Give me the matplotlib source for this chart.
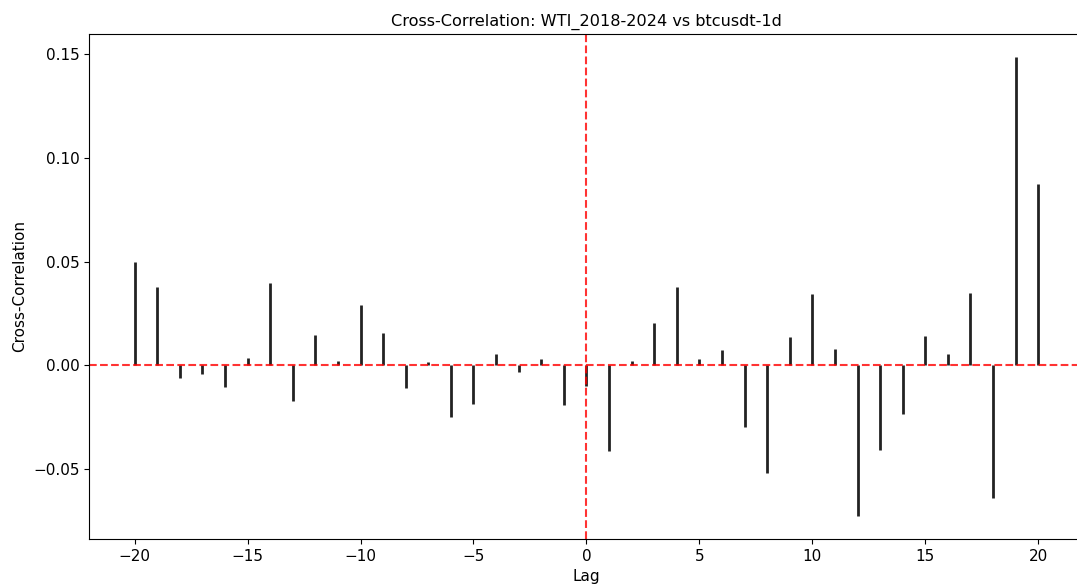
import numpy as np
import matplotlib.pyplot as plt

lags = np.arange(-20, 21)
ccf = np.array([
    0.050, 0.038, -0.006, -0.004, -0.0105, 0.0034, 0.040, -0.017, 0.0145, 0.0024,
    0.029, 0.0156, -0.011, 0.0015, -0.025, -0.0185, 0.0057, -0.0032, 0.0032, -0.019,
    -0.010,
    -0.041, 0.002, 0.0204, 0.0378, 0.0032, 0.0076, -0.0295, -0.052, 0.0137, 0.0343,
    0.008, -0.0725, -0.0407, -0.0233, 0.014, 0.0057, 0.035, -0.064, 0.1488, 0.0874,
])
title = "Cross-Correlation: WTI_2018-2024 vs btcusdt-1d"

plt.rcParams['font.size'] = 11

fig, ax = plt.subplots(figsize=(10.77, 5.85), dpi=100)

ax.vlines(lags, 0, ccf, color="#222222", linewidth=2)
ax.axhline(0, color="red", linestyle="--", linewidth=1.5, alpha=0.8)
ax.axvline(0, color="red", linestyle="--", linewidth=1.5, alpha=0.8)
ax.set_xlim(-22, 22)

ax.set_title(title, fontsize=11.6)
ax.set_xlabel("Lag")
ax.set_ylabel("Cross-Correlation")

# original picture is cropped on the right, so the axes run past the edge
fig.subplots_adjust(left=0.083, right=1.006, top=0.942, bottom=0.079)
fig.savefig("out.png")
